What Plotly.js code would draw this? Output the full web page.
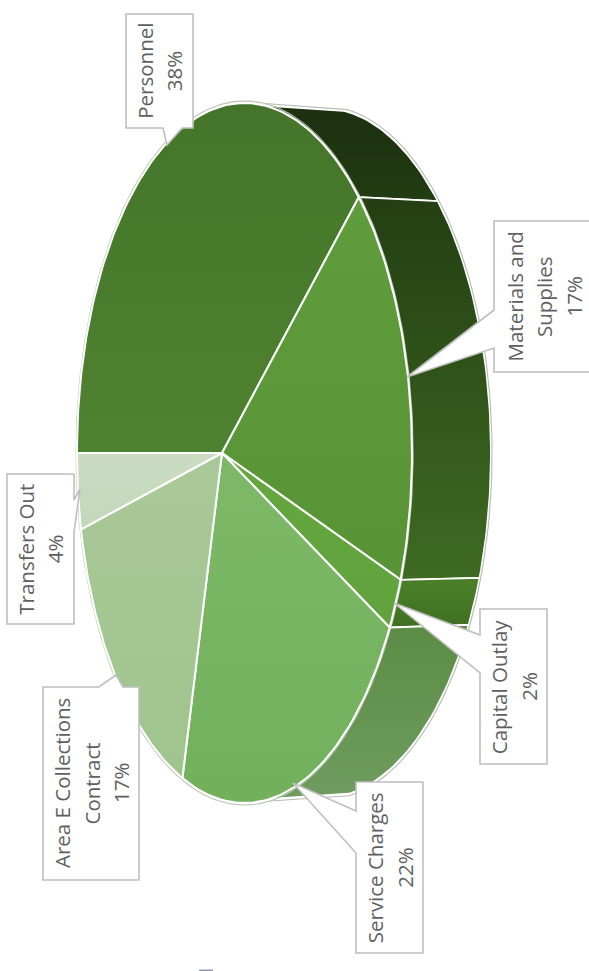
<!DOCTYPE html>
<html><head><meta charset="utf-8">
<script src="https://cdn.plot.ly/plotly-3.0.1.min.js"></script>
<style>html,body{margin:0;padding:0;background:#fff;overflow:hidden}#c{width:589px;height:971px}</style>
</head><body><div id="c"></div>
<script>
// Data (shares estimated from the slice geometry; labels show them rounded)
const categories = ["Personnel","Materials and Supplies","Capital Outlay","Service Charges","Area E Collections Contract","Transfers Out"];
const values = [38.45,16.72,2.13,21.7,17,4];
const labelLines = [["Personnel"],["Materials and","Supplies"],["Capital Outlay"],["Service Charges"],["Area E Collections","Contract"],["Transfers Out"]];
// Styles
const faceColors = [["#44752a","#4f8230"],["#5f9c3c","#589436"],["#64a83f","#60a23c"],["#7db968","#72b05c"],["#a9c998","#a0c48e"],["#cbdcc2","#c4d7b9"]];
const wallColors = [["#1c3010","#223c13"],["#233f13","#3e6a22"],["#4b8029","#3f7022"],["#5c8c45","#6f9c5f"]];
// Projection of the tilted pie into page pixels
const apex = {x:222,y:453}, A=164.5, B=346.8, K=-0.134, DX=79, SY=0.985;
const wallFrom=0.29, wallTo=0.705;
function proj(frac,lower,grow){
  const t=Math.PI-frac*2*Math.PI, u=Math.cos(t), v=Math.sin(t), d=1+K*u, g=grow||1;
  const sx=g*A*u/d, sy=g*B*v/d;
  return lower ? [apex.x+sx+DX, apex.y-sy*SY] : [apex.x+sx, apex.y-sy];
}
function arc(a,b,lower,grow){
  const n=Math.max(6,Math.round((b-a)*300)),p=[];
  for(let i=0;i<=n;i++)p.push(proj(a+(b-a)*i/n,lower,grow));
  return p;
}
const traces=[];
function poly(pts,fillA,fillB,kind,startY,stopY,lw,lc){
  traces.push({type:'scatter',mode:'lines',x:pts.map(p=>p[0]),y:pts.map(p=>p[1]),fill:'toself',
    fillgradient:{type:kind,start:startY,stop:stopY,colorscale:[[0,fillA],[1,fillB]]},
    line:{color:lc||'#fff',width:lw},hoverinfo:'skip',showlegend:false});
}
let cum=0;const total=values.reduce((a,b)=>a+b,0);const spans=values.map(v=>{const s=[cum/total,(cum+v)/total];cum+=v;return s;});
function rim(pts,c,w){traces.push({type:'scatter',mode:'lines',x:pts.map(p=>p[0]),y:pts.map(p=>p[1]),line:{color:c,width:w},hoverinfo:'skip',showlegend:false});}
// walls (the four slices on the visible side)
[0,1,2,3].forEach(i=>{
  const a=Math.max(spans[i][0],wallFrom), b=Math.min(spans[i][1],wallTo);
  const pts=arc(a,b,false).concat(arc(a,b,true).reverse());
  pts.push(pts[0]);
  const ys=pts.map(p=>p[1]);
  poly(pts,wallColors[i][0],wallColors[i][1],'vertical',Math.min(...ys),Math.max(...ys),1.8);
});
rim([proj(wallFrom,false,1.006)].concat(arc(wallFrom,wallTo,true,1.006),[proj(wallTo,false,1.006)]),'#b4bdb0',1.1);
rim(arc(0,1,false,1.006),'#b7c6ad',1.1);
// top faces
values.forEach((v,i)=>{
  const [a,b]=spans[i];
  const pts=[[apex.x,apex.y]].concat(arc(a,b,false));pts.push([apex.x,apex.y]);
  const ys=pts.map(p=>p[1]);
  poly(pts,faceColors[i][0],faceColors[i][1],'vertical',Math.min(...ys),Math.max(...ys),2);
});
// Label boxes: box [x0,y0,x1,y1], tail base two points and tip
const boxes=[
 {b:[126,14,193,128],tail:[[163,128],[167,145],[182,128]],side:'b'},
 {b:[494,221,593,372],tail:[[494,310],[407,377],[494,348]],side:'l'},
 {b:[480,609,547,764],tail:[[480,635],[394,603],[480,673]],side:'l'},
 {b:[356,782,423,953],tail:[[356,811],[293,783],[356,853]],side:'l'},
 {b:[43,687,139,880],tail:[[99,687],[116,675],[123,687]],side:'t'},
 {b:[7,474,74,624],tail:[[74,500],[80,489],[74,532]],side:'r'}
];
const shapes=[],annotations=[];
boxes.forEach((o,i)=>{
  const [x0,y0,x1,y1]=o.b, t=o.tail;
  let corners;
  if(o.side==='b')corners=[[x0,y0],[x1,y0],[x1,y1],t[2],t[1],t[0],[x0,y1]];
  if(o.side==='t')corners=[[x0,y0],t[0],t[1],t[2],[x1,y0],[x1,y1],[x0,y1]];
  if(o.side==='l')corners=[[x0,y0],[x1,y0],[x1,y1],[x0,y1],t[2],t[1],t[0]];
  if(o.side==='r')corners=[[x0,y0],[x1,y0],t[0],t[1],t[2],[x1,y1],[x0,y1]];
  shapes.push({type:'path',xref:'x',yref:'y',path:'M'+corners.map(c=>c.join(',')).join('L')+'Z',fillcolor:'#fff',line:{color:'#bfbfbf',width:1.6},layer:'above'});
  const lines=labelLines[i].concat([Math.round(values[i])+'%']);
  const cx=(x0+x1)/2, cy=(y0+y1)/2, gap=29.5;
  lines.forEach((s,j)=>{
    annotations.push({x:cx+(j-(lines.length-1)/2)*gap,y:cy,xref:'x',yref:'y',text:s,showarrow:false,textangle:-90,
      font:{family:'"Open Sans", sans-serif',size:20.5,color:'#5f5f5f'}});
  });
});
shapes.push({type:'line',xref:'x',yref:'y',x0:199,x1:213,y0:970.3,y1:970.3,line:{color:'#8a94a6',width:1.5}});
Plotly.newPlot('c',traces,{
  width:589,height:971,margin:{l:0,r:0,t:0,b:0},paper_bgcolor:'#fff',plot_bgcolor:'#fff',showlegend:false,
  xaxis:{range:[0,589],visible:false,fixedrange:true},
  yaxis:{range:[971,0],visible:false,fixedrange:true},
  shapes,annotations
},{displayModeBar:false,staticPlot:true});
</script></body></html>
